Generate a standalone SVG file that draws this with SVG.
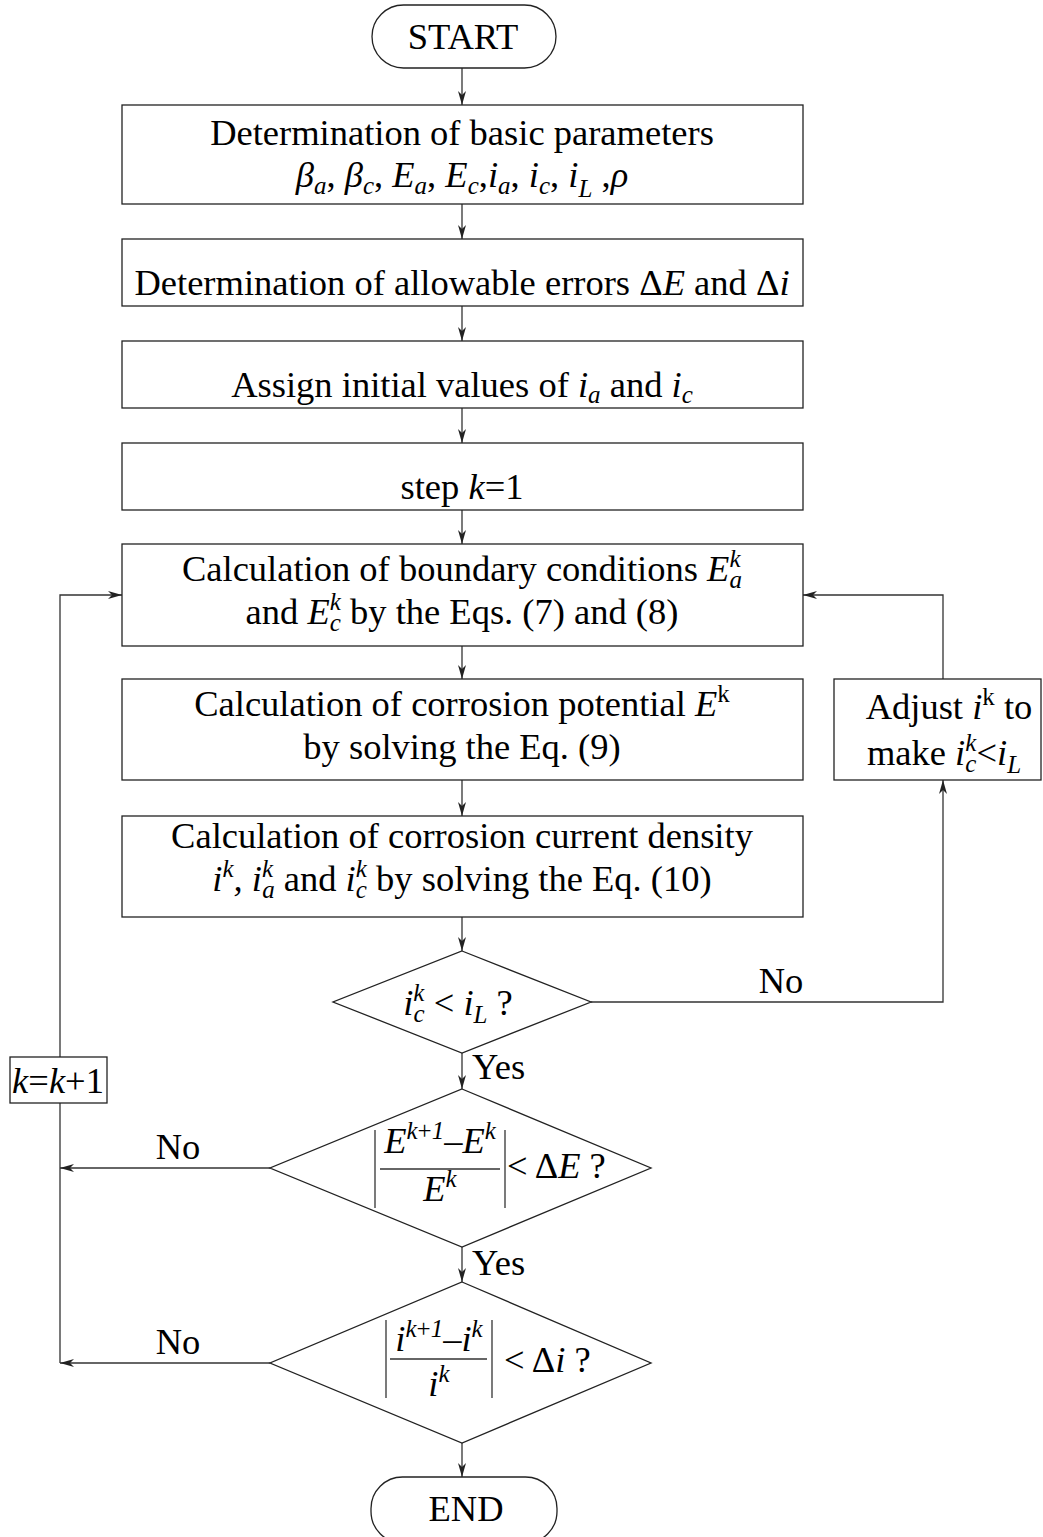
<svg xmlns="http://www.w3.org/2000/svg" width="1043" height="1537" viewBox="0 0 1043 1537">
<style>
.b{fill:#fff;stroke:#222;stroke-width:1.3}
.t{font-family:"Liberation Serif","Times New Roman",serif;font-size:36.5px;fill:#000}
.m{text-anchor:middle}
.i{font-style:italic}
.s{font-size:25px}
.c{stroke:#333;stroke-width:1.3;fill:none}
</style>
<defs>
<marker id="ah" viewBox="0 0 14 8" refX="14" refY="4" markerWidth="14" markerHeight="8" markerUnits="userSpaceOnUse" orient="auto">
<path d="M0,0 L14,4 L0,8 L4,4 z" fill="#222"/>
</marker>
</defs>
<rect width="1043" height="1537" fill="#fff"/>

<g id="connectors">
<line class="c" x1="462" y1="68" x2="462" y2="105" marker-end="url(#ah)"/>
<line class="c" x1="462" y1="204" x2="462" y2="239" marker-end="url(#ah)"/>
<line class="c" x1="462" y1="306" x2="462" y2="341" marker-end="url(#ah)"/>
<line class="c" x1="462" y1="408" x2="462" y2="443" marker-end="url(#ah)"/>
<line class="c" x1="462" y1="510" x2="462" y2="544" marker-end="url(#ah)"/>
<line class="c" x1="462" y1="646" x2="462" y2="679" marker-end="url(#ah)"/>
<line class="c" x1="462" y1="780" x2="462" y2="816" marker-end="url(#ah)"/>
<line class="c" x1="462" y1="917" x2="462" y2="951" marker-end="url(#ah)"/>
<line class="c" x1="462" y1="1053" x2="462" y2="1089" marker-end="url(#ah)"/>
<line class="c" x1="462" y1="1247" x2="462" y2="1282" marker-end="url(#ah)"/>
<line class="c" x1="462" y1="1443" x2="462" y2="1477" marker-end="url(#ah)"/>
<polyline class="c" points="591,1002 943,1002 943,780" marker-end="url(#ah)"/>
<polyline class="c" points="943,679 943,595 803,595" marker-end="url(#ah)"/>
<line class="c" x1="270" y1="1168" x2="60" y2="1168" marker-end="url(#ah)"/>
<line class="c" x1="270" y1="1363" x2="60" y2="1363" marker-end="url(#ah)"/>
<polyline class="c" points="60,1363 60,595 122,595" marker-end="url(#ah)"/>
<text class="t" x="781" y="993" text-anchor="middle">No</text>
<text class="t" x="472" y="1079">Yes</text>
<text class="t" x="178" y="1159" text-anchor="middle">No</text>
<text class="t" x="472" y="1275">Yes</text>
<text class="t" x="178" y="1354" text-anchor="middle">No</text>
</g>

<g id="start">
<rect class="b" x="372" y="5" width="184" height="63" rx="31.5"/>
<text class="t m" x="463" y="49">START</text>
</g>

<g id="params">
<rect class="b" x="122" y="105" width="681" height="99"/>
<text class="t m" x="462" y="145">Determination of basic parameters</text>
<text class="t m" x="462" y="187"><tspan class="i">β</tspan><tspan class="i s" dy="7">a</tspan><tspan dy="-7">, </tspan><tspan class="i">β</tspan><tspan class="i s" dy="7">c</tspan><tspan dy="-7">, </tspan><tspan class="i">E</tspan><tspan class="i s" dy="7">a</tspan><tspan dy="-7">, </tspan><tspan class="i">E</tspan><tspan class="i s" dy="7">c</tspan><tspan dy="-7">,</tspan><tspan class="i">i</tspan><tspan class="i s" dy="7">a</tspan><tspan dy="-7">, </tspan><tspan class="i">i</tspan><tspan class="i s" dy="7">c</tspan><tspan dy="-7">, </tspan><tspan class="i">i</tspan><tspan class="i s" dy="10">L</tspan><tspan dy="-10"> ,</tspan><tspan class="i">ρ</tspan></text>
</g>

<g id="errors">
<rect class="b" x="122" y="239" width="681" height="67"/>
<text class="t m" x="462" y="295">Determination of allowable errors Δ<tspan class="i">E</tspan> and Δ<tspan class="i">i</tspan></text>
</g>

<g id="initial">
<rect class="b" x="122" y="341" width="681" height="67"/>
<text class="t m" x="462" y="397">Assign initial values of <tspan class="i">i</tspan><tspan class="i s" dy="6">a</tspan><tspan dy="-6"> and </tspan><tspan class="i">i</tspan><tspan class="i s" dy="6">c</tspan></text>
</g>

<g id="step">
<rect class="b" x="122" y="443" width="681" height="67"/>
<text class="t m" x="462" y="499">step <tspan class="i">k</tspan>=1</text>
</g>

<g id="boundary">
<rect class="b" x="122" y="544" width="681" height="102"/>
<text class="t m" x="462" y="581">Calculation of boundary conditions <tspan class="i">E</tspan><tspan class="i s" dy="-14">k</tspan><tspan class="i s" dx="-11" dy="21">a</tspan></text>
<text class="t m" x="462" y="624">and <tspan class="i">E</tspan><tspan class="i s" dy="-14">k</tspan><tspan class="i s" dx="-11" dy="21">c</tspan><tspan dy="-7"> by the Eqs. (7) and (8)</tspan></text>
</g>

<g id="potential">
<rect class="b" x="122" y="679" width="681" height="101"/>
<text class="t m" x="462" y="716">Calculation of corrosion potential <tspan class="i">E</tspan><tspan class="s" dy="-14">k</tspan></text>
<text class="t m" x="462" y="759">by solving the Eq. (9)</text>
</g>

<g id="current">
<rect class="b" x="122" y="816" width="681" height="101"/>
<text class="t m" x="462" y="848">Calculation of corrosion current density</text>
<text class="t m" x="462" y="891"><tspan class="i">i</tspan><tspan class="i s" dy="-14">k</tspan><tspan class="i" dy="14">, i</tspan><tspan class="i s" dy="-14">k</tspan><tspan class="i s" dx="-11" dy="21">a</tspan><tspan dy="-7"> and </tspan><tspan class="i">i</tspan><tspan class="i s" dy="-14">k</tspan><tspan class="i s" dx="-11" dy="21">c</tspan><tspan dy="-7"> by solving the Eq. (10)</tspan></text>
</g>

<g id="adjust">
<rect class="b" x="834" y="679" width="207" height="101"/>
<text class="t m" x="949" y="719">Adjust <tspan class="i">i</tspan><tspan class="s" dy="-14">k</tspan><tspan dy="14"> to</tspan></text>
<text class="t m" x="944" y="765">make <tspan class="i">i</tspan><tspan class="i s" dy="-14">k</tspan><tspan class="i s" dx="-11" dy="21">c</tspan><tspan dy="-7">&lt;</tspan><tspan class="i">i</tspan><tspan class="i s" dy="8">L</tspan></text>
</g>

<g id="check-il">
<polygon class="b" points="462,951 591,1002 462,1053 333,1002"/>
<text class="t m" x="458" y="1015"><tspan class="i">i</tspan><tspan class="i s" dy="-14">k</tspan><tspan class="i s" dx="-11" dy="21">c</tspan><tspan dy="-7"> &lt; </tspan><tspan class="i">i</tspan><tspan class="i s" dy="8">L</tspan><tspan dy="-8"> ?</tspan></text>
</g>

<g id="k-inc">
<rect class="b" x="10" y="1057" width="97" height="46"/>
<text class="t m" x="58" y="1093"><tspan class="i">k</tspan>=<tspan class="i">k</tspan>+1</text>
</g>

<g id="check-e">
<polygon class="b" points="462,1089 651,1168 462,1247 270,1168"/>
<line class="c" x1="375" y1="1130" x2="375" y2="1208"/>
<line class="c" x1="505" y1="1130" x2="505" y2="1208"/>
<line class="c" x1="380" y1="1169" x2="500" y2="1169"/>
<text class="t m" x="440" y="1153"><tspan class="i">E</tspan><tspan class="s" dy="-14"><tspan class="i">k</tspan>+<tspan class="i">1</tspan></tspan><tspan dy="14">–</tspan><tspan class="i">E</tspan><tspan class="i s" dy="-14">k</tspan></text>
<text class="t m" x="440" y="1201"><tspan class="i">E</tspan><tspan class="i s" dy="-14">k</tspan></text>
<text class="t" x="507" y="1178">&lt; Δ<tspan class="i">E</tspan> ?</text>
</g>

<g id="check-i">
<polygon class="b" points="462,1282 651,1363 462,1443 270,1363"/>
<line class="c" x1="386" y1="1320" x2="386" y2="1398"/>
<line class="c" x1="492" y1="1320" x2="492" y2="1398"/>
<line class="c" x1="390" y1="1359" x2="487" y2="1359"/>
<text class="t m" x="439" y="1351"><tspan class="i">i</tspan><tspan class="s" dy="-14"><tspan class="i">k</tspan>+<tspan class="i">1</tspan></tspan><tspan dy="14">–</tspan><tspan class="i">i</tspan><tspan class="i s" dy="-14">k</tspan></text>
<text class="t m" x="439" y="1396"><tspan class="i">i</tspan><tspan class="i s" dy="-14">k</tspan></text>
<text class="t" x="504" y="1372">&lt; Δ<tspan class="i">i</tspan> ?</text>
</g>

<g id="end">
<rect class="b" x="371" y="1477" width="186" height="66" rx="31.5"/>
<text class="t m" x="466" y="1521">END</text>
</g>
</svg>
